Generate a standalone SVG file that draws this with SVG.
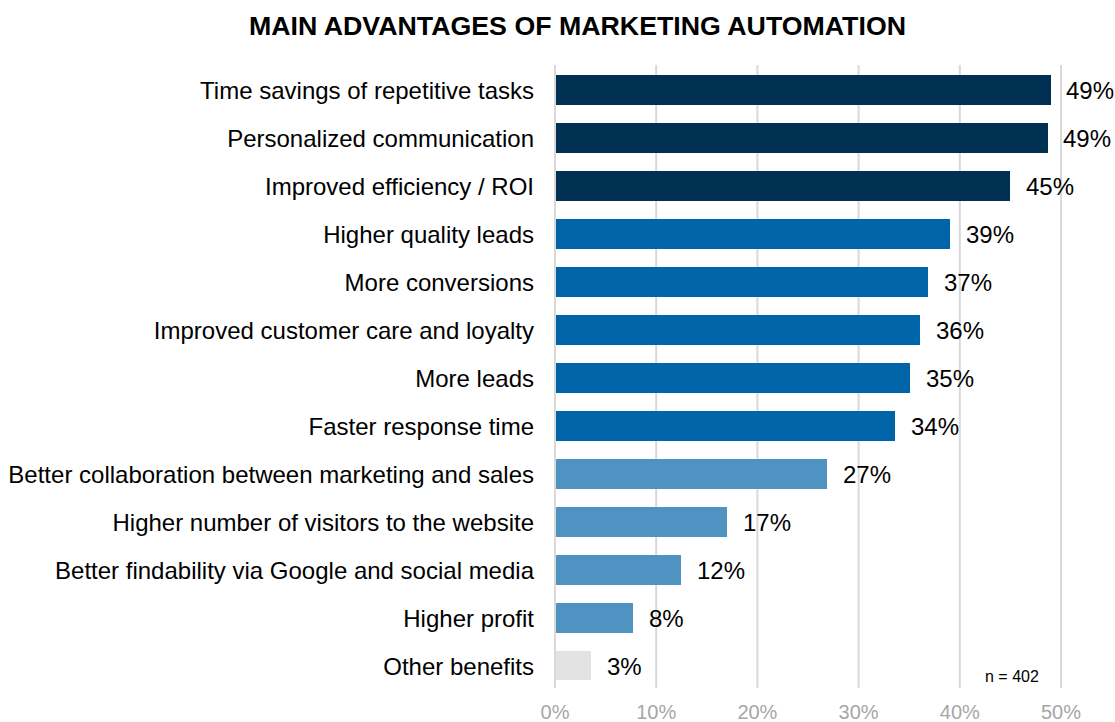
<svg xmlns="http://www.w3.org/2000/svg" width="1115" height="722" viewBox="0 0 1115 722">
<style>
.t{font-family:"Liberation Sans",Arial,sans-serif;fill:#000}
.title{font-size:26px;font-weight:bold;text-anchor:middle}
.lab{font-size:24px;text-anchor:end}
.val{font-size:24px}
.ax{font-family:"Liberation Sans",Arial,sans-serif;font-size:20px;fill:#a6a6a6;text-anchor:middle}
.grid{stroke:#d9d9d9;stroke-width:2}
.c1{fill:#003152}
.c2{fill:#0064a8}
.c3{fill:#4f93c3}
.c4{fill:#e3e3e3}
</style>
<rect width="1115" height="722" fill="#fff"/>
<text class="t title" x="577.5" y="34.5" textLength="657" lengthAdjust="spacingAndGlyphs">MAIN ADVANTAGES OF MARKETING AUTOMATION</text>
<g id="gridlines">
<line class="grid" x1="555" y1="65" x2="555" y2="688"/>
<line class="grid" x1="656.2" y1="65" x2="656.2" y2="688"/>
<line class="grid" x1="757.4" y1="65" x2="757.4" y2="688"/>
<line class="grid" x1="858.6" y1="65" x2="858.6" y2="688"/>
<line class="grid" x1="959.8" y1="65" x2="959.8" y2="688"/>
<line class="grid" x1="1061" y1="65" x2="1061" y2="688"/>
</g>
<g id="axis">
<text class="ax" x="555" y="719">0%</text>
<text class="ax" x="656.2" y="719">10%</text>
<text class="ax" x="757.4" y="719">20%</text>
<text class="ax" x="858.6" y="719">30%</text>
<text class="ax" x="959.8" y="719">40%</text>
<text class="ax" x="1061" y="719">50%</text>
</g>
<g id="bar1"><rect class="c1" x="556" y="75" width="495" height="30"/><text class="t lab" x="534" y="98.5">Time savings of repetitive tasks</text><text class="t val" x="1066" y="99">49%</text></g>
<g id="bar2"><rect class="c1" x="556" y="123" width="492" height="30"/><text class="t lab" x="534" y="146.5">Personalized communication</text><text class="t val" x="1063" y="147">49%</text></g>
<g id="bar3"><rect class="c1" x="556" y="171" width="454" height="30"/><text class="t lab" x="534" y="194.5">Improved efficiency / ROI</text><text class="t val" x="1026" y="195">45%</text></g>
<g id="bar4"><rect class="c2" x="556" y="219" width="394" height="30"/><text class="t lab" x="534" y="242.5">Higher quality leads</text><text class="t val" x="966" y="243">39%</text></g>
<g id="bar5"><rect class="c2" x="556" y="267" width="372" height="30"/><text class="t lab" x="534" y="290.5">More conversions</text><text class="t val" x="944" y="291">37%</text></g>
<g id="bar6"><rect class="c2" x="556" y="315" width="364" height="30"/><text class="t lab" x="534" y="338.5">Improved customer care and loyalty</text><text class="t val" x="936" y="339">36%</text></g>
<g id="bar7"><rect class="c2" x="556" y="363" width="354" height="30"/><text class="t lab" x="534" y="386.5">More leads</text><text class="t val" x="926" y="387">35%</text></g>
<g id="bar8"><rect class="c2" x="556" y="411" width="339" height="30"/><text class="t lab" x="534" y="434.5">Faster response time</text><text class="t val" x="911" y="435">34%</text></g>
<g id="bar9"><rect class="c3" x="556" y="459" width="271" height="30"/><text class="t lab" x="534" y="482.5">Better collaboration between marketing and sales</text><text class="t val" x="843" y="483">27%</text></g>
<g id="bar10"><rect class="c3" x="556" y="507" width="171" height="30"/><text class="t lab" x="534" y="530.5">Higher number of visitors to the website</text><text class="t val" x="743" y="531">17%</text></g>
<g id="bar11"><rect class="c3" x="556" y="555" width="125" height="30"/><text class="t lab" x="534" y="578.5">Better findability via Google and social media</text><text class="t val" x="697" y="579">12%</text></g>
<g id="bar12"><rect class="c3" x="556" y="603" width="77" height="30"/><text class="t lab" x="534" y="626.5">Higher profit</text><text class="t val" x="649" y="627">8%</text></g>
<g id="bar13"><rect class="c4" x="556" y="651" width="35" height="29"/><text class="t lab" x="534" y="674.5">Other benefits</text><text class="t val" x="607" y="675">3%</text></g>
<text class="t" x="985" y="682" style="font-size:16px">n = 402</text>
</svg>
